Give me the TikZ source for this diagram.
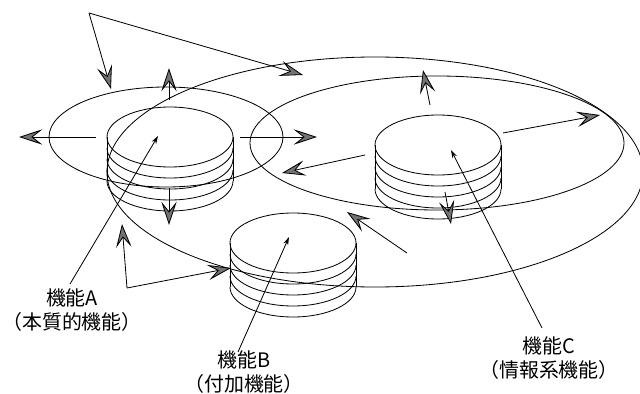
\documentclass[tikz,border=0pt]{standalone}
\usepackage{fontspec}
\newfontfamily\jpfont{Noto Sans CJK JP}
\usepackage{tikz}
\usetikzlibrary{arrows.meta}

\begin{document}
\begin{tikzpicture}[x=0.03cm,y=-0.03cm,line width=0.7pt,
  flow/.style={-{Stealth[length=7mm,width=4.6mm,inset=2.9mm,fill=black!55]}},
  ptr/.style={-{Stealth[length=2.4mm,width=1.5mm]}},
  lbl/.style={align=center,inner sep=0pt,font=\jpfont\fontsize{17}{20.5}\selectfont}]
\useasboundingbox (0,0) rectangle (640,394);
\draw (375,172) ellipse [x radius=268,y radius=115];
\draw (166,137) ellipse [x radius=117,y radius=50];
\draw (437,143) ellipse [x radius=187,y radius=67];
\foreach \cx/\cy in {170/137,293/243,438/145}{
  \draw (\cx,\cy) ellipse [x radius=63,y radius=30];
  \draw (\cx-63,\cy)--(\cx-63,\cy+44) (\cx+63,\cy)--(\cx+63,\cy+44);
  \foreach \k in {1,...,4}
    \draw (\cx-63,\cy+11*\k) arc[start angle=180,end angle=0,x radius=63,y radius=30];
}
\coordinate (src) at (89,13);
\coordinate (srcL) at (111,89);
\coordinate (srcR) at (303,75);
\draw[flow] (src)--(srcL);
\draw[flow] (src)--(srcR);
\coordinate (aUp0) at (169,100); \coordinate (aUp) at (169,68);
\coordinate (aLt0) at (96,137); \coordinate (aLt) at (19,137);
\coordinate (aRt0) at (240,137); \coordinate (aRt) at (317,137);
\coordinate (aDn0) at (169,188); \coordinate (aDn) at (169,225);
\draw[flow] (aUp0)--(aUp);
\draw[flow] (aLt0)--(aLt);
\draw[flow] (aRt0)--(aRt);
\draw[flow] (aDn0)--(aDn);
\coordinate (cUp0) at (430,105); \coordinate (cUp) at (423,70);
\coordinate (cRt0) at (503,133); \coordinate (cRt) at (600,115);
\coordinate (cLt0) at (365,155); \coordinate (cLt) at (282,173);
\coordinate (cDn0) at (445,192); \coordinate (cDn) at (451,224);
\draw[flow] (cUp0)--(cUp);
\draw[flow] (cRt0)--(cRt);
\draw[flow] (cLt0)--(cLt);
\draw[flow] (cDn0)--(cDn);
\coordinate (bOut0) at (407,253); \coordinate (bOut) at (347,212);
\draw[flow] (bOut0)--(bOut);
\coordinate (corner) at (127,288);
\coordinate (cornUp) at (122,224);
\coordinate (cornRt) at (231,268);
\draw[flow] (corner)--(cornUp);
\draw[flow] (corner)--(cornRt);
\node[lbl] (labA) at (72,310) {機能A\\（本質的機能）};
\node[lbl] (labB) at (244,372) {機能B\\（付加機能）};
\node[lbl] (labC) at (549,358) {機能C\\（情報系機能）};
\coordinate (ptA) at (158,136);
\coordinate (ptB) at (289,237);
\coordinate (ptC) at (451,150);
\draw[ptr] (70,284)--(ptA);
\draw[ptr] (238,352)--(ptB);
\draw[ptr] (542,328)--(ptC);
\end{tikzpicture}
\end{document}
